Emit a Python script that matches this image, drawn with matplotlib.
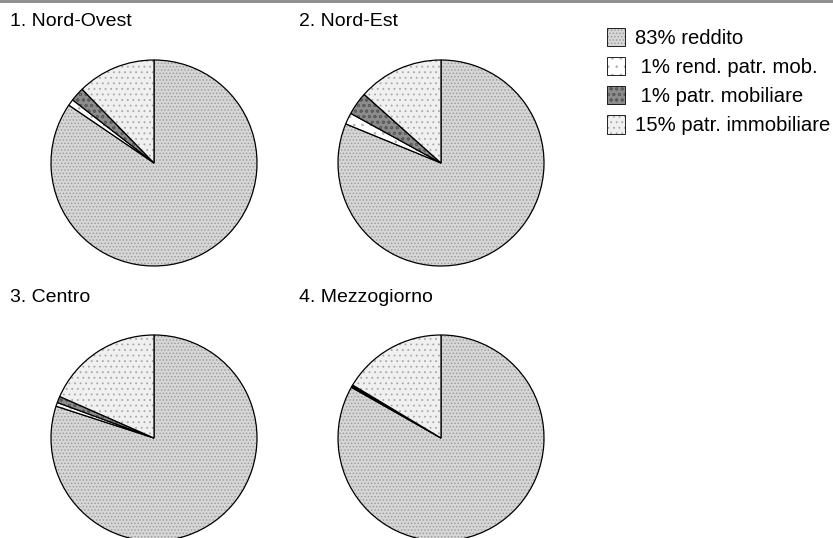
import matplotlib
matplotlib.use('Agg')
import matplotlib.pyplot as plt
import matplotlib.colors as mcolors
from matplotlib.patches import Patch

plt.rcParams['font.family'] = ['Liberation Sans', 'DejaVu Sans']
plt.rcParams['hatch.linewidth'] = 0.6

# dati
aree = ['1. Nord-Ovest', '2. Nord-Est', '3. Centro', '4. Mezzogiorno']
voci = ['83% reddito', ' 1% rend. patr. mob.', ' 1% patr. mobiliare', '15% patr. immobiliare']
reddito = [84.5, 81.2, 80.0, 83.2]
rend_patr_mob = [1.0, 1.8, 0.6, 0.2]
patr_mobiliare = [2.2, 3.6, 1.0, 0.2]
patr_immobiliare = [12.3, 13.4, 18.4, 16.4]

# stili (colore di fondo, tratteggio, colore tratteggio)
stili = [('#d6d6d6', '.....', '#9a9a9a'),
         ('#ffffff', '..', '#b0b0b0'),
         ('#8c8c8c', 'ooo', '#5a5a5a'),
         ('#f0f0f0', '...', '#a8a8a8')]

W, H = 833, 538
fig = plt.figure(figsize=(W / 100, H / 100), dpi=100)

centri = [(154, 163), (441, 163), (154, 438), (441, 438)]
titoli_pos = [(10, 22), (299, 22), (10, 297), (299, 297)]
r = 103
lim = 1.02
lato = 2 * r * lim

for i, nome in enumerate(aree):
    cx, cy = centri[i]
    ax = fig.add_axes([(cx - lato / 2) / W, 1 - (cy + lato / 2) / H, lato / W, lato / H])
    valori = [reddito[i], rend_patr_mob[i], patr_mobiliare[i], patr_immobiliare[i]]
    wedges, _ = ax.pie(valori, startangle=90, counterclock=False,
                       colors=[s[0] for s in stili],
                       wedgeprops=dict(edgecolor='black', linewidth=0.9))
    for w, s in zip(wedges, stili):
        w.set_hatch(s[1])
        w._hatch_color = mcolors.to_rgba(s[2])
        w.stale = True
    ax.set_xlim(-lim, lim)
    ax.set_ylim(-lim, lim)
    ax.set_aspect('equal')
    ax.axis('off')
    tx, ty = titoli_pos[i]
    fig.text(tx / W, 1 - ty / H, nome, fontsize=14, ha='left', va='center')

handles = []
for s in stili:
    p = Patch(facecolor=s[0], edgecolor='black', linewidth=0.6, hatch=s[1])
    p._hatch_color = mcolors.to_rgba(s[2])
    handles.append(p)
fig.legend(handles, voci, loc='upper left', bbox_to_anchor=(607 / W, 1 - 28 / H),
           frameon=False, fontsize=14.6, handlelength=0.88, handleheight=1.0,
           handletextpad=0.5, labelspacing=0.45, borderaxespad=0, borderpad=0)

fig.add_artist(plt.Line2D([0, 1], [1 - 1 / H, 1 - 1 / H], transform=fig.transFigure,
                          color='#8a8a8a', linewidth=2))

fig.savefig('out.png', dpi=100)
